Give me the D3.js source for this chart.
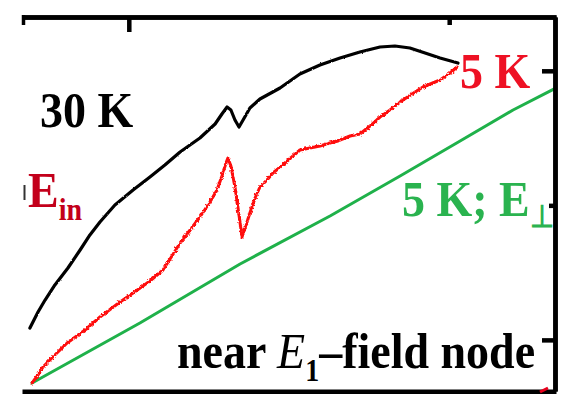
<!DOCTYPE html>
<html lang="en">
<head>
    <meta charset="UTF-8">
    <title>near E1-field node</title>
    <style>
        body { margin: 0; background: #fff; }
        text { font-family: "Liberation Serif", "Times New Roman", serif; font-weight: bold; }
    </style>
</head>
<body>
<svg id="chart" width="565" height="394"></svg>
<script src="https://d3js.org/d3.v7.min.js"></script>
<script>

    // photon energy (eV) and signal (arb. units)
    var black30K_x = [1.2537, 1.2575, 1.2608, 1.2654, 1.2715, 1.2772, 1.2818, 1.2865, 1.2935, 1.3020,
        1.3099, 1.3169, 1.3240, 1.3333, 1.3404, 1.3436, 1.3460, 1.3478, 1.3497, 1.3516, 1.3535, 1.3567,
        1.3614, 1.3708, 1.3801, 1.3895, 1.3989, 1.4082, 1.4176, 1.4246, 1.4316, 1.4387, 1.4457, 1.4541];
    var black30K_y = [0.5441, 0.6036, 0.6482, 0.7040, 0.7671, 0.8340, 0.8898, 0.9381, 1.0013, 1.0570,
        1.1054, 1.1500, 1.1983, 1.2503, 1.3023, 1.3395, 1.3655, 1.3544, 1.3172, 1.2912, 1.3172, 1.3618,
        1.3952, 1.4361, 1.4882, 1.5216, 1.5476, 1.5699, 1.5885, 1.5922, 1.5848, 1.5662, 1.5476, 1.5290];

    var red5K_x = [1.2547, 1.2575, 1.2598, 1.2654, 1.2711, 1.2795, 1.2865, 1.2959, 1.3020, 1.3099,
        1.3160, 1.3202, 1.3240, 1.3287, 1.3333, 1.3380, 1.3413, 1.3436, 1.3455, 1.3464, 1.3478, 1.3497,
        1.3516, 1.3530, 1.3549, 1.3567, 1.3591, 1.3614, 1.3647, 1.3675, 1.3731, 1.3801, 1.3895, 1.3989,
        1.4036, 1.4082, 1.4129, 1.4176, 1.4223, 1.4270, 1.4326, 1.4377, 1.4457, 1.4504, 1.4537];
    var red5K_y = [0.3397, 0.3695, 0.3992, 0.4438, 0.4884, 0.5367, 0.5850, 0.6408, 0.6742, 0.7188,
        0.7597, 0.8117, 0.8600, 0.9084, 0.9567, 1.0124, 1.0570, 1.1091, 1.1574, 1.1760, 1.1462, 1.0682,
        0.9641, 0.8824, 0.9270, 0.9716, 1.0273, 1.0682, 1.0942, 1.1202, 1.1574, 1.2057, 1.2206, 1.2429,
        1.2577, 1.2652, 1.2949, 1.3283, 1.3544, 1.3841, 1.4138, 1.4398, 1.4659, 1.4919, 1.5142];

    var green5Kperp_x = [1.2547, 1.3052, 1.3521, 1.3942, 1.4270, 1.4551, 1.4799, 1.5000];
    var green5Kperp_y = [0.3397, 0.5627, 0.7820, 0.9604, 1.1091, 1.2392, 1.3544, 1.4361];

    var topTicksMajor = [1.30],
        topTicksMinor = [1.45],
        rightTicksMajor = [0.5, 1.5],
        rightTicksMinor = [1.0];

    var svg = d3.select("#chart"),
        plotL = 22, plotR = 554, plotT = 17, plotB = 391,
        x = d3.scaleLinear().domain([1.25, 1.50]).range([plotL, plotR + 2]),
        y = d3.scaleLinear().domain([0.31, 1.70]).range([plotB, plotT]);

    function zip(xs, ys) {
        return xs.map(function (v, i) { return [v, ys[i]]; });
    }

    var line = d3.line()
        .x(function (d) { return x(d[0]); })
        .y(function (d) { return y(d[1]); });

    var defs = svg.append("defs");
    defs.append("clipPath").attr("id", "plot")
        .append("rect").attr("x", plotL).attr("y", plotT).attr("width", plotR - plotL).attr("height", plotB - plotT);

    // measurement noise look on the traces
    function roughen(id, amount) {
        var f = defs.append("filter").attr("id", id)
            .attr("x", "-5%").attr("y", "-5%").attr("width", "110%").attr("height", "110%");
        f.append("feTurbulence").attr("type", "fractalNoise").attr("baseFrequency", 0.45)
            .attr("numOctaves", 2).attr("seed", 3).attr("result", "noise");
        f.append("feDisplacementMap").attr("in", "SourceGraphic").attr("in2", "noise")
            .attr("scale", amount).attr("xChannelSelector", "R").attr("yChannelSelector", "G");
    }
    roughen("noisyRed", 3.5);
    roughen("noisyBlack", 1.8);

    var curves = svg.append("g").attr("clip-path", "url(#plot)")
        .attr("fill", "none").attr("stroke-linejoin", "round").attr("stroke-linecap", "round");

    curves.append("path").datum(zip(green5Kperp_x, green5Kperp_y))
        .attr("d", line).attr("stroke", "#1fb14a").attr("stroke-width", 3);
    curves.append("path").datum(zip(red5K_x, red5K_y))
        .attr("d", line).attr("stroke", "#ff0a0a").attr("stroke-width", 3)
        .attr("filter", "url(#noisyRed)");
    curves.append("path").datum(zip(black30K_x, black30K_y))
        .attr("d", line).attr("stroke", "#000").attr("stroke-width", 3.2)
        .attr("filter", "url(#noisyBlack)");

    // frame and ticks (ticks point inward)
    function styleAxis(g) {
        g.selectAll("path, line").attr("stroke", "#000").attr("stroke-width", 4.5);
        g.selectAll("text").remove();
    }

    svg.append("g").attr("transform", "translate(0," + plotT + ")")
        .call(d3.axisTop(x).tickValues(topTicksMajor).tickSizeInner(-15).tickSizeOuter(0).tickFormat(""))
        .call(styleAxis);
    svg.append("g").attr("transform", "translate(0," + plotT + ")")
        .call(d3.axisTop(x).tickValues(topTicksMinor).tickSizeInner(-8).tickSizeOuter(0).tickFormat(""))
        .call(styleAxis);
    svg.append("g").attr("transform", "translate(" + (plotR + 1) + ",0)")
        .call(d3.axisRight(y).tickValues(rightTicksMajor).tickSizeInner(-13).tickSizeOuter(0).tickFormat(""))
        .call(styleAxis);
    svg.append("g").attr("transform", "translate(" + (plotR + 1) + ",0)")
        .call(d3.axisRight(y).tickValues(rightTicksMinor).tickSizeInner(-6).tickSizeOuter(0).tickFormat(""))
        .call(styleAxis);
    svg.append("g").attr("transform", "translate(0," + (plotB + 1) + ")")
        .call(d3.axisBottom(x).tickValues([]).tickSizeOuter(0))
        .call(styleAxis)
        .select("path").attr("stroke-width", 6);

    // stubs of the neighbouring panel cut off by the crop
    svg.append("line").attr("x1", plotL + 1.5).attr("x2", plotL + 1.5).attr("y1", plotT - 2).attr("y2", plotT + 8)
        .attr("stroke", "#000").attr("stroke-width", 3.5);
    svg.append("line").attr("x1", 540).attr("x2", 548).attr("y1", 392).attr("y2", 388)
        .attr("stroke", "#e8001c").attr("stroke-width", 3);
    svg.append("line").attr("x1", 24.5).attr("x2", 24.5).attr("y1", 185).attr("y2", 200)
        .attr("stroke", "#333").attr("stroke-width", 2);

    // labels
    function label(xp, yp, color) {
        return svg.append("text")
            .attr("transform", "translate(" + xp + "," + yp + ") scale(1,1.12)")
            .attr("font-size", 46).attr("fill", color);
    }

    label(40, 127, "#000").text("30 K");
    label(460, 88, "#ee1124").text("5 K");

    var ein = label(28, 207, "#c3001b");
    ein.append("tspan").text("E");
    ein.append("tspan").attr("font-size", 28).attr("dy", 12).text("in");

    var perp = label(402, 216, "#2ab34f");
    perp.append("tspan").text("5 K; E");
    perp.append("tspan").attr("font-size", 28).attr("dy", 10).text("\u22a5");

    var nodeLabel = label(177, 368, "#000");
    nodeLabel.append("tspan").text("near ");
    nodeLabel.append("tspan").attr("font-style", "italic").attr("font-weight", "normal").text("E");
    nodeLabel.append("tspan").attr("font-size", 28).attr("dy", 12).text("1");
    nodeLabel.append("tspan").attr("dy", -12).text("\u2013field node");

</script>
</body>
</html>
